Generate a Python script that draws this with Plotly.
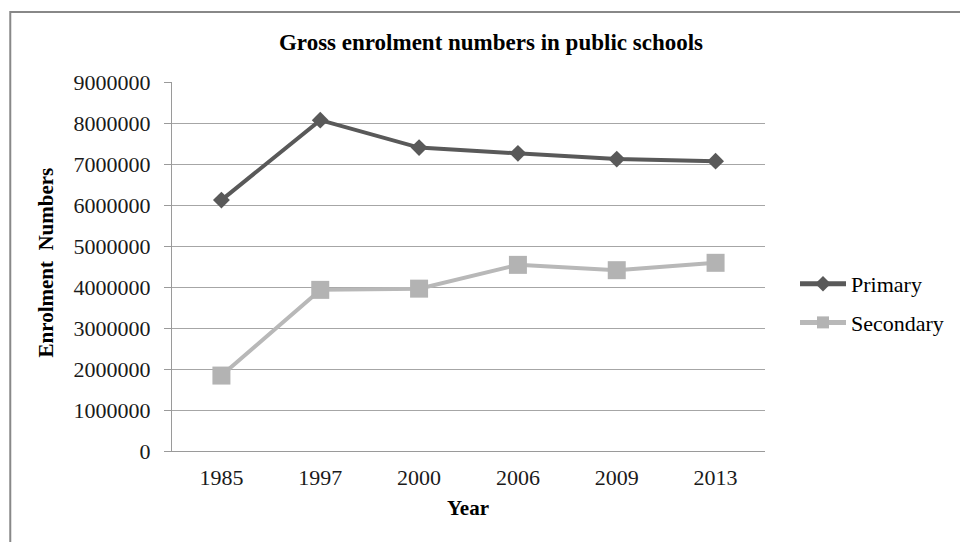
import plotly.graph_objects as go

years = ["1985", "1997", "2000", "2006", "2009", "2013"]
primary = [6120000, 8070000, 7400000, 7260000, 7120000, 7070000]
secondary = [1840000, 3930000, 3960000, 4540000, 4410000, 4590000]
y_ticks = [0, 1000000, 2000000, 3000000, 4000000, 5000000,
           6000000, 7000000, 8000000, 9000000]

FONT = "Liberation Serif"
W, H = 960, 542
L, R, T, B = 172, 194, 82, 91
PW, PH = W - L - R, H - T - B


def px_x(px):
    return (px - L) / PW


def px_y(py):
    return (H - B - py) / PH


fig = go.Figure()
fig.add_trace(go.Scatter(
    x=years, y=primary, name="Primary", mode="lines+markers",
    legendgroup="p",
    line=dict(color="#595959", width=4),
    marker=dict(symbol="diamond", size=13, color="#595959"),
))
fig.add_trace(go.Scatter(
    x=years, y=secondary, name="Secondary", mode="lines+markers",
    legendgroup="s",
    line=dict(color="#b8b8b8", width=4),
    marker=dict(symbol="square", size=18, color="#b3b3b3"),
))

fig.update_layout(
    width=W, height=H,
    margin=dict(l=L, r=R, t=T, b=B),
    paper_bgcolor="white", plot_bgcolor="white",
    font=dict(family=FONT, color="#1a1a1a", size=22),
    title=dict(
        text="<b>Gross enrolment numbers in public schools</b>",
        x=491 / W, xanchor="center", xref="container",
        y=1 - 42 / H, yanchor="middle", yref="container",
        font=dict(family=FONT, size=23, color="#000000"),
    ),
    xaxis=dict(
        type="category", range=[-0.5, 5.5],
        showgrid=False, showline=True, linecolor="#9a9a9a", linewidth=1,
        ticks="", tickfont=dict(family=FONT, size=22, color="#1a1a1a"),
        ticklabelstandoff=7, zeroline=False, fixedrange=True,
    ),
    yaxis=dict(
        range=[0, 9000000], tickvals=y_ticks,
        ticktext=[str(v) for v in y_ticks],
        showgrid=True, gridcolor="#a6a6a6", gridwidth=1,
        showline=True, linecolor="#9a9a9a", linewidth=1,
        ticks="outside", ticklen=7, tickcolor="#9a9a9a",
        tickfont=dict(family=FONT, size=22, color="#1a1a1a"),
        ticklabelstandoff=9, zeroline=False, fixedrange=True,
    ),
    legend=dict(
        x=px_x(795), xanchor="left", y=px_y(263), yanchor="top",
        font=dict(family=FONT, size=22, color="#000000"),
        bgcolor="rgba(0,0,0,0)", tracegroupgap=7,
        traceorder="grouped", itemsizing="constant", itemwidth=46,
    ),
    showlegend=True,
    annotations=[
        dict(text="<b>Enrolment  Numbers</b>", xref="paper", yref="paper",
             x=0, y=0.5, xanchor="center", yanchor="middle",
             xshift=45 - L, yshift=4, textangle=-90, showarrow=False,
             font=dict(family=FONT, size=21, color="#000000")),
        dict(text="<b>Year</b>", xref="paper", yref="paper",
             x=0.5, y=0, xanchor="center", yanchor="middle",
             xshift=-1, yshift=-(508 - (H - B)), showarrow=False,
             font=dict(family=FONT, size=21, color="#000000")),
    ],
    shapes=[
        dict(type="rect", xref="paper", yref="paper",
             x0=px_x(10), x1=px_x(975), y0=px_y(560), y1=px_y(12),
             line=dict(color="#888888", width=2), layer="below"),
    ],
)

fig.write_html("out.html")
